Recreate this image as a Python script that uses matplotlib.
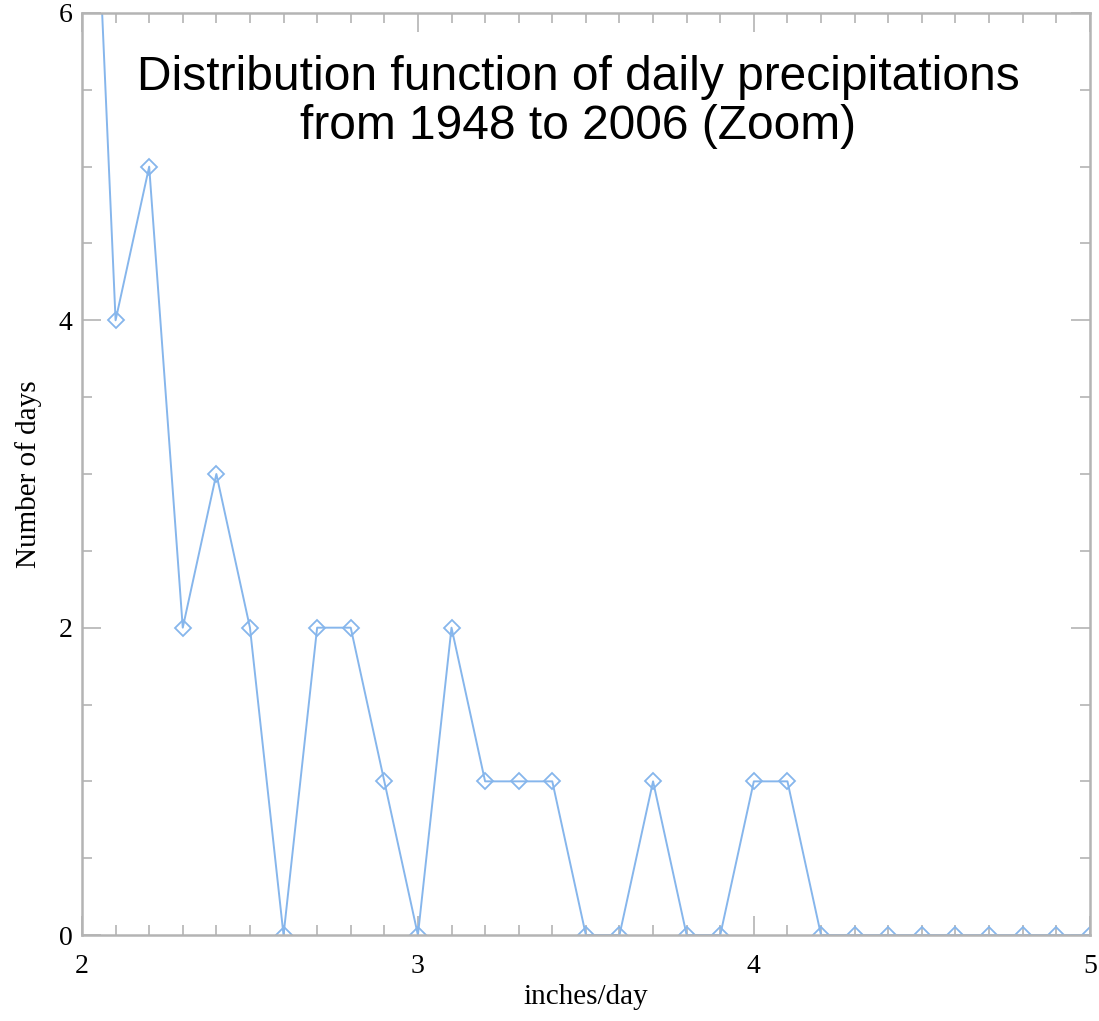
import numpy as np
import matplotlib.pyplot as plt
from matplotlib.ticker import MultipleLocator

# daily precipitation bins (inches/day) and counts of days
rain_bins = [2.0, 2.1, 2.2, 2.3, 2.4, 2.5, 2.6, 2.7, 2.8, 2.9,
             3.0, 3.1, 3.2, 3.3, 3.4, 3.5, 3.6, 3.7, 3.8, 3.9,
             4.0, 4.1, 4.2, 4.3, 4.4, 4.5, 4.6, 4.7, 4.8, 4.9, 5.0]
day_counts = [9, 4, 5, 2, 3, 2, 0, 2, 2, 1,
              0, 2, 1, 1, 1, 0, 0, 1, 0, 0,
              1, 1, 0, 0, 0, 0, 0, 0, 0, 0, 0]

line_col = '#86b6ec'
axis_col = '#b4b4b4'

fig = plt.figure(figsize=(10.99, 10.21), dpi=100)
ax = fig.add_axes([0.0746, 0.0842, 0.917, 0.9031])

ax.plot(rain_bins, day_counts, color=line_col, lw=1.4,
        marker='D', ms=8, mfc='none', mec=line_col, mew=1.3)

ax.set_xlim(2, 5)
ax.set_ylim(0, 6)
ax.xaxis.set_major_locator(MultipleLocator(1))
ax.xaxis.set_minor_locator(MultipleLocator(0.1))
ax.yaxis.set_major_locator(MultipleLocator(2))
ax.yaxis.set_minor_locator(MultipleLocator(0.5))

for side in ax.spines.values():
    side.set_color(axis_col)
    side.set_linewidth(1.8)

ax.tick_params(which='both', direction='in', top=True, right=True,
               color=axis_col, width=1.2)
ax.tick_params(which='major', length=14)
ax.tick_params(which='minor', length=7)
ax.tick_params(axis='x', which='major', pad=14, labelsize=20)
ax.tick_params(axis='y', which='major', pad=7, labelsize=20)
for lbl in ax.get_xticklabels() + ax.get_yticklabels():
    lbl.set_family('Liberation Serif')

ax.set_xlabel('inches/day', family='Liberation Serif', fontsize=21, labelpad=3)
ax.set_ylabel('Number of days', family='Liberation Serif', fontsize=21, labelpad=12)

fig.text(0.526, 0.900, 'Distribution function of daily precipitations\nfrom 1948 to 2006 (Zoom)',
         ha='center', va='center', family='Liberation Sans', fontsize=34.5,
         linespacing=1.12)

fig.savefig('out.png', dpi=100)
